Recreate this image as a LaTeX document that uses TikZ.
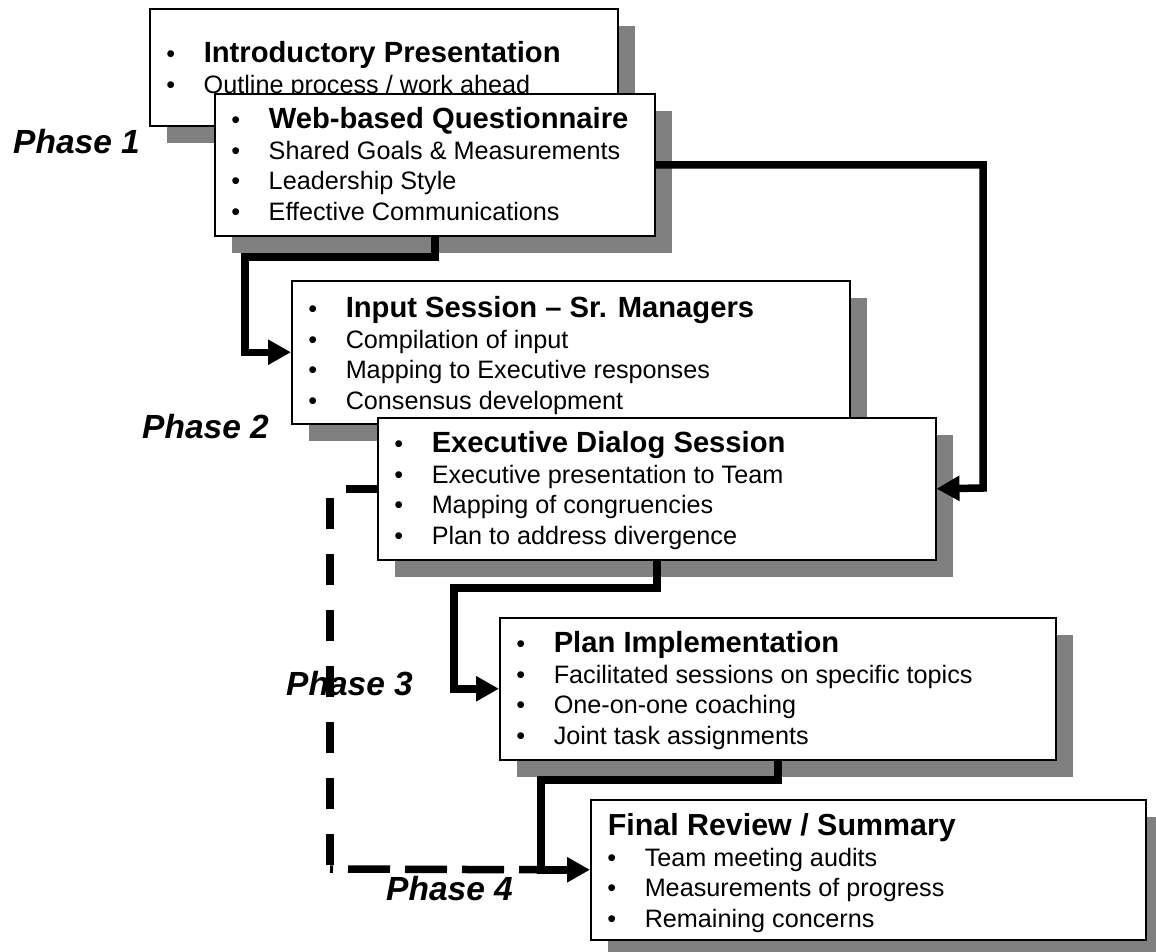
\documentclass[tikz,border=0pt]{standalone}
\usepackage{fontspec}
\setmainfont{Liberation Sans}
\usepackage{tikz}
\usetikzlibrary{arrows.meta,shadows}

\definecolor{shadowgray}{HTML}{808080}
\newcommand{\bodyfont}{\fontsize{25.2pt}{30.5pt}\selectfont}
\newcommand{\headfont}{\fontsize{29.2pt}{30.5pt}\selectfont\bfseries}
\newcommand{\phasefont}{\fontsize{33.5pt}{40pt}\selectfont\bfseries\itshape}
\newcommand{\bitem}[2][0pt]{\par\noindent\rule{0pt}{#1}\hspace*{16.5pt}\makebox[37.5pt][l]{\normalfont\bodyfont\char"2022}#2}
\newcommand{\stagebody}[3]{\parbox[c][#2][t]{#1}{\bodyfont#3}}

\begin{document}
\begin{tikzpicture}[x=1pt,y=-1pt,line cap=butt,
    stage/.style={draw,line width=1.5pt,fill=white,inner sep=0pt,anchor=north west,
      drop shadow={fill=shadowgray,opacity=1,shadow xshift=17pt,shadow yshift=-17pt}},
    flow/.style={line width=7.5pt,line join=miter,-{Triangle[length=23pt,width=24pt]}},
    dashline/.style={line width=7.5pt,line join=miter},
    phase/.style={anchor=base west,inner sep=0pt,font=\phasefont}]
      \useasboundingbox (0,0) rectangle (1156,951);
      \node[stage] (intro) at (149,8) {\stagebody{468pt}{117pt}{%
        \bitem[54pt]{{\headfont Introductory Presentation}}%
        \bitem{Outline process / work ahead}}};
      \node[stage] (web) at (214,93) {\stagebody{440pt}{142pt}{%
        \bitem[35pt]{{\headfont Web-based Questionnaire}}%
        \bitem{Shared Goals \& Measurements}%
        \bitem{Leadership Style}%
        \bitem{Effective Communications}}};
      \node[stage] (input) at (291,280) {\stagebody{558pt}{143pt}{%
        \bitem[37pt]{{\headfont Input Session -- Sr. Managers}}%
        \bitem{Compilation of input}%
        \bitem{Mapping to Executive responses}%
        \bitem{Consensus development}}};
      \node[stage] (exec) at (377,417) {\stagebody{558pt}{142pt}{%
        \bitem[35pt]{{\headfont Executive Dialog Session}}%
        \bitem{Executive presentation to Team}%
        \bitem{Mapping of congruencies}%
        \bitem{Plan to address divergence}}};
      \node[stage] (plan) at (499,617) {\stagebody{556pt}{142pt}{%
        \bitem[35pt]{{\headfont Plan Implementation}}%
        \bitem{Facilitated sessions on specific topics}%
        \bitem{One-on-one coaching}%
        \bitem{Joint task assignments}}};
      \node[stage] (final) at (590,799) {\stagebody{555pt}{140pt}{%
        \noindent\rule{0pt}{36pt}\hspace*{17pt}{\fontsize{30.4pt}{30.5pt}\selectfont\bfseries Final Review / Summary}%
        \bitem{Team meeting audits}%
        \bitem{Measurements of progress}%
        \bitem{Remaining concerns}}};
      \coordinate (bendA) at (245,257);
      \coordinate (bendB) at (983,488);
      \coordinate (bendC) at (454,588);
      \coordinate (bendD) at (541,780);
      \coordinate (bendE) at (330,869);
      \draw[dashline,dash pattern=on 31pt off 25pt] (exec.west) -| (bendE);
      \draw[dashline,dash pattern=on 42pt off 15pt,dash phase=39pt] (bendE) -- (bendD |- final.west);
      \draw[flow] (web.south) |- (bendA) |- (input.west);
      \draw[flow] (web.east) -| (bendB) -- (exec.east);
      \draw[flow] (exec.south) |- (bendC) |- (plan.west);
      \draw[flow] (plan.south) |- (bendD) |- (final.west);
      \node[phase] (ph1) at (13,153) {Phase 1};
      \node[phase] (ph2) at (142,438) {Phase 2};
      \node[phase] (ph3) at (286,695) {Phase 3};
      \node[phase] (ph4) at (386,900) {Phase 4};
    \end{tikzpicture}
\end{document}
